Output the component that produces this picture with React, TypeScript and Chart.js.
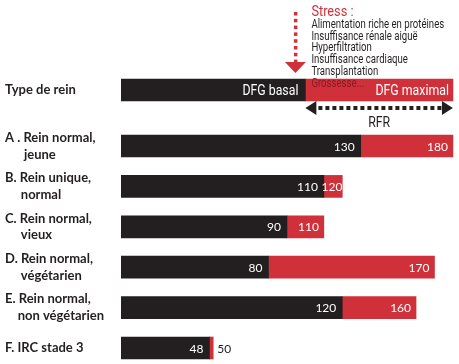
import React, { useEffect, useRef } from "react";
import { Chart, registerables } from "chart.js";

Chart.register(...registerables);

// ---------- data ----------
const HEADER_LABEL = "Type de rein";
const HEADER_BASAL = 100;
const HEADER_MAX = 180;
const HEADER_BASAL_TEXT = "DFG basal";
const HEADER_MAX_TEXT = "DFG maximal";
const RFR_TEXT = "RFR";

const CATEGORY_PREFIX = ["A . ", "B. ", "C. ", "D. ", "E. ", "F. "];
const CATEGORY_LINE1 = ["Rein normal,", "Rein unique,", "Rein normal,", "Rein normal,", "Rein normal,", "IRC stade 3"];
const CATEGORY_LINE2 = ["jeune", "normal", "vieux", "végétarien", "non végétarien", ""];

const DFG_BASAL = [130, 110, 90, 80, 120, 48];
const DFG_MAXIMAL = [180, 120, 110, 170, 160, 50];

const STRESS_TITLE = "Stress :";
const STRESS_ITEMS = [
  "Alimentation riche en protéines",
  "Insuffisance rénale aiguë",
  "Hyperfiltration",
  "Insuffisance cardiaque",
  "Transplantation",
  "Grossesse...",
];

// ---------- style ----------
const BLACK = "#231f20";
const RED = "#d0303a";
const DARK_RED = "#8a1b22";
const LABEL_FONT = "bold 13px Lato";
const HEADER_GAP = 1.386; // header row offset (in row units) above first category

function buildLabels(): string[][] {
  const c = document.createElement("canvas").getContext("2d")!;
  c.font = LABEL_FONT;
  const sp = c.measureText(" ").width || 3;
  const out: string[][] = [[HEADER_LABEL]];
  CATEGORY_PREFIX.forEach((p, i) => {
    const first = p + CATEGORY_LINE1[i];
    if (CATEGORY_LINE2[i]) {
      const n = Math.round(c.measureText(p).width / sp);
      out.push([first, " ".repeat(n) + CATEGORY_LINE2[i]]);
    } else out.push([first]);
  });
  return out;
}

function txt(ctx: CanvasRenderingContext2D, s: string, x: number, y: number, font: string, color: string, align: CanvasTextAlign, sx = 1) {
  ctx.save();
  ctx.font = font;
  ctx.fillStyle = color;
  ctx.textAlign = align;
  ctx.textBaseline = "alphabetic";
  ctx.translate(x, y);
  ctx.scale(sx, 1);
  ctx.fillText(s, 0, 0);
  ctx.restore();
}

const annotate = {
  id: "annotate",
  afterDatasetsDraw(chart: any) {
    const ctx: CanvasRenderingContext2D = chart.ctx;
    const bm = chart.getDatasetMeta(0).data;
    const rm = chart.getDatasetMeta(1).data;
    // header row
    const hb = bm[0].getProps(["x", "y", "base", "height"], true);
    const hr = rm[0].getProps(["x", "y", "base", "height"], true);
    const top = hb.y - hb.height / 2;
    const bottom = hb.y + hb.height / 2;
    txt(ctx, HEADER_BASAL_TEXT, hb.x - 7, hb.y + 5, "14px Roboto", "#ffffff", "right", 0.88);
    txt(ctx, HEADER_MAX_TEXT, hr.x - 4, hb.y + 5, "14px Roboto", "#ffffff", "right", 0.88);

    // stress list
    const lx = hr.base + 6;
    txt(ctx, STRESS_TITLE, lx, top - 63, "15px Roboto", RED, "left", 0.85);
    STRESS_ITEMS.forEach((s, i) => {
      const y = top - 51.3 + 11.8 * i;
      txt(ctx, s, lx, y, "12px Roboto", y > top ? DARK_RED : BLACK, "left", 0.8);
    });

    // red dotted arrow
    const ax = hb.x - 10;
    ctx.save();
    ctx.fillStyle = RED;
    for (let y = top - 67; y < top - 19; y += 6.8) ctx.fillRect(ax - 1.5, y, 3.5, 3.5);
    ctx.beginPath();
    ctx.moveTo(ax - 10.5, top - 17);
    ctx.lineTo(ax + 10.5, top - 17);
    ctx.lineTo(ax, top - 6);
    ctx.closePath();
    ctx.fill();
    ctx.restore();

    // RFR double arrow
    const ry = bottom + 7;
    const x0 = hr.base, x1 = hr.x;
    ctx.save();
    ctx.fillStyle = BLACK;
    ctx.beginPath();
    ctx.moveTo(x0, ry);
    ctx.lineTo(x0 + 11, ry - 7);
    ctx.lineTo(x0 + 11, ry + 7);
    ctx.closePath();
    ctx.fill();
    ctx.beginPath();
    ctx.moveTo(x1, ry);
    ctx.lineTo(x1 - 11, ry - 7);
    ctx.lineTo(x1 - 11, ry + 7);
    ctx.closePath();
    ctx.fill();
    for (let x = x0 + 13; x < x1 - 14; x += 7) ctx.fillRect(x, ry - 2, 4, 4);
    ctx.restore();
    txt(ctx, RFR_TEXT, (x0 + x1) / 2, bottom + 26, "14px Roboto", BLACK, "center", 0.88);

    // value labels
    for (let i = 0; i < DFG_BASAL.length; i++) {
      const b = bm[i + 1].getProps(["x", "y", "base", "height"], true);
      const r = rm[i + 1].getProps(["x", "y", "base", "height"], true);
      const w = r.x - r.base;
      txt(ctx, String(DFG_BASAL[i]), b.x - 6, b.y + 4.5, "12px Lato", "#ffffff", "right");
      if (w > 30) {
        txt(ctx, String(DFG_MAXIMAL[i]), r.x - 5, b.y + 4.5, "12px Lato", "#ffffff", "right");
      } else if (w > 12) {
        txt(ctx, String(DFG_MAXIMAL[i]), (r.x + r.base) / 2 - 1, b.y + 4.5, "12px Lato", "#ffffff", "center");
      } else {
        txt(ctx, String(DFG_MAXIMAL[i]), r.x + 4, b.y + 4.5, "12px Lato", BLACK, "left");
      }
    }
  },
};

export default function App() {
  const ref = useRef<HTMLCanvasElement | null>(null);
  useEffect(() => {
    if (!ref.current) return;
    const labels = buildLabels();
    const positions = [-HEADER_GAP, ...DFG_BASAL.map((_, i) => i)];
    const basal = [HEADER_BASAL, ...DFG_BASAL];
    const maxi = [HEADER_MAX, ...DFG_MAXIMAL];
    const rowPx = 40.4;
    const firstRowPx = 146;
    const yMin = -firstRowPx / rowPx;
    const yMax = yMin + 364 / rowPx;

    const chart = new Chart(ref.current, {
      type: "bar",
      data: {
        datasets: [
          {
            label: "DFG basal",
            data: basal.map((v, i) => ({ x: [0, v], y: positions[i] })) as any,
            backgroundColor: BLACK,
            barThickness: 22,
            grouped: false,
          } as any,
          {
            label: "DFG maximal",
            data: maxi.map((v, i) => ({ x: [basal[i], v], y: positions[i] })) as any,
            backgroundColor: RED,
            barThickness: 22,
            grouped: false,
          } as any,
        ],
      },
      options: {
        indexAxis: "y",
        animation: false,
        responsive: false,
        layout: { padding: { left: 5, right: 0, top: 0, bottom: 0 } },
        plugins: { legend: { display: false }, tooltip: { enabled: false } },
        scales: {
          x: { type: "linear", display: false, min: 0, max: 183.3, offset: false },
          y: {
            type: "linear",
            reverse: true,
            offset: false,
            bounds: "data",
            min: yMin,
            max: yMax,
            grid: { display: false, offset: false },
            border: { display: false },
            afterBuildTicks: (scale: any) => {
              scale.ticks = positions.map((v) => ({ value: v }));
            },
            afterFit: (scale: any) => {
              scale.width = 116;
              scale.paddingTop = 0;
              scale.paddingBottom = 0;
            },
            ticks: {
              autoSkip: false,
              crossAlign: "far",
              color: BLACK,
              font: { family: "Lato", size: 13, weight: "bold", lineHeight: 1.3 },
              callback: (_v: any, i: number) => labels[i],
            },
          } as any,
        },
      } as any,
      plugins: [annotate],
    });
    return () => chart.destroy();
  }, []);

  return (
    <div style={{ position: "fixed", left: 0, top: 0, width: 459, height: 364, background: "#fff" }}>
      <canvas ref={ref} width={459} height={364} />
    </div>
  );
}
